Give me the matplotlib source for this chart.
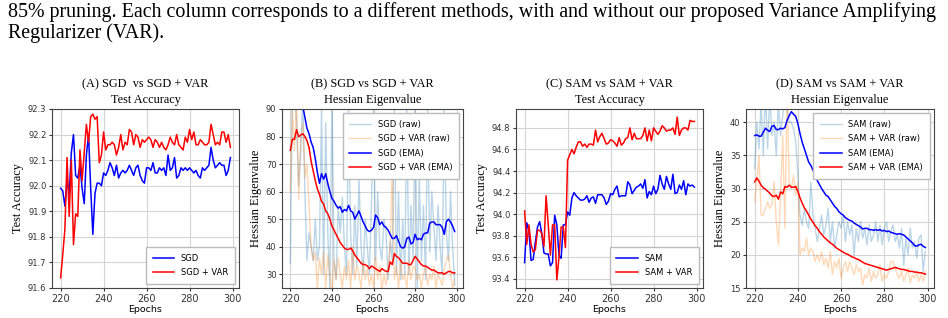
import numpy as np
import matplotlib.pyplot as plt

# Epochs shown on every panel
epochs = np.arange(220, 300)

# (A) SGD vs SGD + VAR, test accuracy
sgd_acc = [91.99, 91.98, 91.92, 92.02, 91.97, 92.13, 92.20, 92.04, 92.03, 92.08,
           91.99, 91.93, 92.12, 92.20, 91.99, 91.81, 91.97, 92.01, 92.01, 92.00,
           92.05, 92.04, 92.06, 92.09, 92.07, 92.04, 92.08, 92.03, 92.05, 92.06,
           92.05, 92.06, 92.08, 92.06, 92.04, 92.07, 92.08, 92.04, 92.02, 92.01,
           92.07, 92.07, 92.06, 92.09, 92.05, 92.05, 92.07, 92.06, 92.07, 92.04,
           92.12, 92.06, 92.07, 92.11, 92.03, 92.04, 92.07, 92.06, 92.07, 92.06,
           92.07, 92.06, 92.05, 92.06, 92.04, 92.03, 92.07, 92.06, 92.07, 92.08,
           92.15, 92.10, 92.07, 92.08, 92.09, 92.08, 92.08, 92.04, 92.06, 92.11]
sgd_var_acc = [91.64, 91.73, 91.83, 92.11, 91.88, 92.10, 91.77, 91.89, 91.88, 92.14,
               92.02, 92.13, 92.24, 92.17, 92.27, 92.28, 92.26, 92.27, 92.09, 92.12,
               92.21, 92.14, 92.16, 92.16, 92.17, 92.16, 92.12, 92.15, 92.20, 92.14,
               92.17, 92.16, 92.22, 92.21, 92.16, 92.20, 92.19, 92.15, 92.18, 92.17,
               92.18, 92.19, 92.18, 92.15, 92.18, 92.17, 92.15, 92.17, 92.15, 92.14,
               92.16, 92.19, 92.17, 92.16, 92.20, 92.16, 92.15, 92.14, 92.19, 92.17,
               92.22, 92.18, 92.21, 92.16, 92.16, 92.18, 92.17, 92.16, 92.16, 92.17,
               92.24, 92.20, 92.16, 92.17, 92.16, 92.21, 92.21, 92.17, 92.20, 92.15]

# (B) SGD vs SGD + VAR, Hessian eigenvalue
sgd_raw = [34, 95, 100, 85, 62, 74, 95, 60, 35, 45,
           40, 35, 50, 35, 40, 90, 30, 85, 45, 25,
           95, 35, 28, 55, 45, 58, 40, 30, 90, 45,
           30, 55, 33, 65, 40, 30, 50, 40, 30, 55,
           90, 35, 60, 40, 35, 50, 45, 28, 42, 35,
           90, 30, 60, 28, 50, 30, 90, 30, 55, 35,
           90, 25, 65, 35, 55, 28, 90, 38, 60, 48,
           35, 55, 40, 30, 90, 45, 35, 60, 40, 26]
sgd_var_raw = [60, 90, 75, 95, 57, 80, 85, 65, 70, 55,
               40, 35, 38, 25, 36, 30, 38, 25, 37, 30,
               22, 35, 28, 36, 30, 25, 33, 28, 35, 25,
               40, 28, 33, 30, 25, 35, 28, 32, 26, 30,
               25, 36, 28, 33, 24, 30, 26, 33, 40, 70,
               28, 33, 25, 35, 28, 30, 25, 35, 28, 33,
               32, 28, 30, 25, 30, 33, 26, 30, 28, 33,
               25, 30, 28, 26, 32, 35, 37, 30, 25, 28]
sgd_ema = [118, 114, 108, 103, 99, 95, 91, 87, 83, 81,
           78, 76, 72, 67, 63, 66.5, 64.5, 66.5, 63, 60,
           57.5, 56.5, 55, 54, 54.5, 52.5, 53.5, 53, 55, 53,
           52.5, 50, 51.5, 53, 51, 49, 47.5, 46, 45.5, 46,
           47, 51.5, 50.5, 48, 49, 47.5, 47, 46, 44.5, 43,
           43, 44, 42, 40, 39.5, 40, 43, 43.5, 41, 41.5,
           44.5, 42.5, 43, 42.5, 44.5, 45, 45, 48.5, 49, 49,
           48, 48, 48, 47, 44.5, 49, 50, 49, 47.5, 45.5]
sgd_var_ema = [75, 79, 79, 82.5, 80, 80.5, 81, 80, 78.5, 76,
               71, 67.5, 64, 61, 59, 56.5, 55.5, 53, 52, 50,
               47.5, 46, 44.5, 43, 41.5, 40.5, 39.5, 39, 39, 39.5,
               38.5, 37, 36, 35, 34, 33.5, 33.5, 33, 32, 33,
               32.5, 32, 31.5, 31, 32, 31.5, 31, 31, 34.5, 33.5,
               37.5, 36.5, 36, 35, 34, 34, 34, 33.5, 33.5, 35,
               36.5, 35.5, 34.5, 33.5, 33, 33, 32.5, 32, 31.5, 31.5,
               31, 30.5, 30.5, 30.5, 30, 30.5, 31, 31, 30.5, 30.5]

# (C) SAM vs SAM + VAR, test accuracy
sam_acc = [93.55, 93.92, 93.85, 93.57, 93.58, 93.74, 93.88, 93.93, 93.82, 93.64,
           93.63, 93.63, 93.52, 93.55, 93.99, 93.90, 93.62, 93.59, 93.90, 93.90,
           94.02, 93.99, 94.15, 94.20, 94.17, 94.15, 94.13, 94.13, 94.14, 94.17,
           94.11, 94.15, 94.16, 94.10, 94.18, 94.18, 94.18, 94.15, 94.09, 94.12,
           94.19, 94.18, 94.23, 94.26, 94.16, 94.17, 94.17, 94.17, 94.30, 94.27,
           94.19, 94.22, 94.25, 94.26, 94.28, 94.24, 94.32, 94.15, 94.21, 94.18,
           94.26, 94.19, 94.23, 94.36, 94.28, 94.23, 94.35, 94.28, 94.23, 94.37,
           94.19, 94.20, 94.27, 94.23, 94.31, 94.18, 94.28, 94.26, 94.27, 94.25]
sam_var_acc = [94.03, 93.72, 93.90, 93.72, 93.65, 93.67, 93.85, 93.85, 93.82, 93.70,
               94.17, 93.90, 93.62, 93.90, 93.90, 93.39, 93.60, 93.88, 93.88, 93.69,
               94.50, 94.55, 94.60, 94.56, 94.62, 94.67, 94.67, 94.63, 94.65, 94.62,
               94.65, 94.65, 94.64, 94.78, 94.67, 94.72, 94.75, 94.70, 94.65, 94.66,
               94.69, 94.68, 94.66, 94.63, 94.71, 94.64, 94.66, 94.70, 94.71, 94.80,
               94.69, 94.75, 94.70, 94.70, 94.70, 94.73, 94.80, 94.68, 94.78, 94.68,
               94.80, 94.77, 94.74, 94.77, 94.82, 94.80, 94.77, 94.78, 94.78, 94.80,
               94.74, 94.90, 94.73, 94.78, 94.80, 94.80, 94.78, 94.87, 94.86, 94.86]

# (D) SAM vs SAM + VAR, Hessian eigenvalue
sam_raw = [33, 40, 36, 43, 35, 45, 36, 44, 38, 40,
           35, 43, 38, 41, 44, 42, 40, 40, 39, 37,
           32, 26, 24.5, 27, 25, 24, 31, 26, 24, 22,
           24, 26, 23, 24.5, 27, 22, 25, 21, 23, 25,
           24, 26, 22, 25, 23, 24.5, 20, 24, 22, 25,
           22.5, 24, 21.5, 24.5, 22, 23, 25, 22, 24.5, 21.5,
           24, 25, 22, 23.5, 24.5, 22, 23, 21, 24, 18.5,
           22.5, 20, 24, 21, 22, 19.5, 22.5, 23, 17.5, 20.5]
sam_var_raw = [28, 31, 35, 26, 26, 27, 28, 27, 27.5, 31,
               25, 21.5, 29, 38, 24, 45, 31, 30, 32, 29,
               31, 20, 21, 20.5, 22.5, 20, 21, 20.5, 19, 20,
               19, 20.5, 18.5, 19.5, 18, 20.5, 17, 19, 18, 19.5,
               16.5, 18, 19, 17.5, 19, 18, 17, 18.5, 17.5, 18,
               15.5, 17, 16.5, 18, 16, 17.5, 16.5, 17, 18.5, 16,
               17, 16.5, 17.5, 19, 19, 18, 17, 16.5, 17.5, 16,
               17, 18, 15.8, 17, 16.5, 17.5, 16, 17, 16, 17.5]
sam_ema = [38.0, 38.1, 37.9, 37.9, 38.5, 39.1, 38.8, 38.6, 39.4, 39.5,
           38.9, 38.9, 39.1, 39.0, 39.2, 40.3, 41.0, 41.6, 41.2, 40.9,
           39.8, 38.3, 37.0, 36.0, 35.0, 34.0, 33.5, 32.8, 32.0, 31.2,
           30.6, 30.0, 29.5, 29.0, 28.8, 28.3, 27.8, 27.3, 27.0, 26.5,
           26.2, 26.0, 25.6, 25.4, 25.2, 25.1, 24.8, 24.6, 24.4, 24.2,
           23.9, 24.0, 24.0, 23.8, 23.8, 23.7, 23.8, 23.7, 23.8, 23.6,
           23.7, 23.5, 23.6, 23.4, 23.3, 23.2, 23.1, 23.2, 23.1, 23.0,
           22.7, 22.4, 22.1, 21.8, 21.4, 21.3, 21.5, 21.6, 21.3, 21.1]
sam_var_ema = [31.0, 31.6, 31.1, 30.5, 30.1, 29.9, 29.6, 29.3, 28.9, 28.8,
               29.0, 28.4, 29.5, 29.2, 30.3, 30.2, 30.5, 30.2, 30.2, 30.3,
               29.6, 28.6, 27.8, 27.1, 26.6, 26.0, 25.4, 24.9, 24.4, 24.0,
               23.5, 23.1, 22.7, 22.4, 22.1, 21.8, 21.6, 21.3, 21.0, 20.8,
               20.6, 20.4, 20.2, 20.1, 19.9, 19.7, 19.6, 19.4, 19.3, 19.1,
               18.9, 18.7, 18.6, 18.5, 18.4, 18.3, 18.2, 18.1, 18.0, 17.9,
               17.8, 17.7, 17.8, 17.9, 18.0, 18.1, 18.0, 17.9, 17.8, 17.8,
               17.7, 17.6, 17.5, 17.5, 17.4, 17.4, 17.3, 17.3, 17.2, 17.1]

SERIF = ['Liberation Serif', 'DejaVu Serif']
W, H = 948, 318

fig = plt.figure(figsize=(W / 100, H / 100), dpi=100)

# caption text from the paper page above the figure
fig.text(8 / W, 1 - 12 / H, "85% pruning. Each column corresponds to a different methods, with and without our proposed Variance Amplifying",
         family=SERIF, fontsize=14.4, va='center', ha='left')
fig.text(8 / W, 1 - 33 / H, "Regularizer (VAR).", family=SERIF, fontsize=14.4, va='center', ha='left')


def make_ax(left, right, title, ylabel):
    ax = fig.add_axes([left / W, (H - 288) / H, (right - left) / W, 179 / H])
    ax.set_title(title, family=SERIF, fontsize=8.8, pad=4, linespacing=1.45)
    ax.set_ylabel(ylabel, family=SERIF, fontsize=8.8, labelpad=3)
    ax.set_xlabel('Epochs', fontsize=6.8, labelpad=1)
    ax.grid(True, color='#d4d4d4', linewidth=0.8)
    ax.set_axisbelow(True)
    ax.tick_params(axis='x', labelsize=7, length=2.5, pad=1.5, colors='#333333')
    ax.tick_params(axis='y', labelsize=6, length=2.5, pad=1.5, colors='#333333')
    for s in ax.spines.values():
        s.set_color('#444444')
        s.set_linewidth(0.8)
    ax.set_xticks([220, 240, 260, 280, 300])
    return ax


def legend(ax, loc):
    ax.legend(loc=loc, fontsize=6, fancybox=False, edgecolor='#bbbbbb', framealpha=1,
              borderpad=0.8, labelspacing=0.65, handlelength=2.6)


# (A)
ax = make_ax(52, 239, "(A) SGD  vs SGD + VAR\nTest Accuracy", "Test Accuracy")
ax.plot(epochs, sgd_acc, color='blue', lw=1.1, label='SGD')
ax.plot(epochs, sgd_var_acc, color='red', lw=1.1, label='SGD + VAR')
ax.set_ylim(91.6, 92.3)
ax.set_xlim(216, 303)
legend(ax, 'lower right')

# (B)
ax = make_ax(282, 463, "(B) SGD vs SGD + VAR\nHessian Eigenvalue", "Hessian Eigenvalue")
ax.plot(epochs, sgd_raw, color='tab:blue', alpha=0.3, lw=1, label='SGD (raw)')
ax.plot(epochs, sgd_var_raw, color='tab:orange', alpha=0.3, lw=1, label='SGD + VAR (raw)')
ax.plot(epochs, sgd_ema, color='blue', lw=1.1, label='SGD (EMA)')
ax.plot(epochs, sgd_var_ema, color='red', lw=1.1, label='SGD + VAR (EMA)')
ax.set_ylim(25, 90)
ax.set_xlim(216, 303)
legend(ax, 'upper right')

# (C)
ax = make_ax(516, 703, "(C) SAM vs SAM + VAR\nTest Accuracy", "Test Accuracy")
ax.plot(epochs, sam_acc, color='blue', lw=1.1, label='SAM')
ax.plot(epochs, sam_var_acc, color='red', lw=1.1, label='SAM + VAR')
ax.set_xlim(216, 303)
legend(ax, 'lower right')

# (D)
ax = make_ax(746, 934, "(D) SAM vs SAM + VAR\nHessian Eigenvalue", "Hessian Eigenvalue")
ax.plot(epochs, sam_raw, color='tab:blue', alpha=0.3, lw=1, label='SAM (raw)')
ax.plot(epochs, sam_var_raw, color='tab:orange', alpha=0.3, lw=1, label='SAM + VAR (raw)')
ax.plot(epochs, sam_ema, color='blue', lw=1.1, label='SAM (EMA)')
ax.plot(epochs, sam_var_ema, color='red', lw=1.1, label='SAM + VAR (EMA)')
ax.set_ylim(15, 42)
ax.set_xlim(216, 303)
legend(ax, 'upper right')

fig.savefig('out.png', dpi=100)
